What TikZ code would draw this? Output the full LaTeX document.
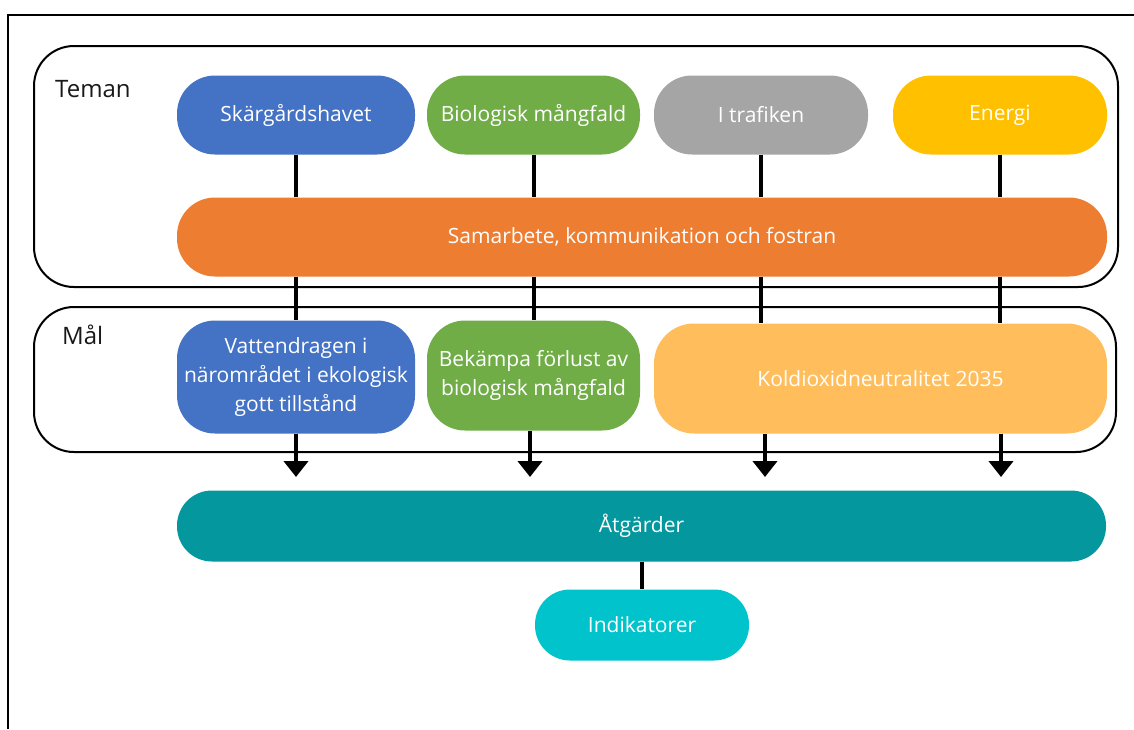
\documentclass[tikz,border=0pt]{standalone}
\usepackage{fontspec}
\setmainfont{Open Sans}
\usetikzlibrary{arrows.meta}
\definecolor{cblue}{HTML}{4472C4}
\definecolor{cgreen}{HTML}{70AD47}
\definecolor{cgray}{HTML}{A5A5A5}
\definecolor{cyellow}{HTML}{FFC000}
\definecolor{corange}{HTML}{ED7D31}
\definecolor{clight}{HTML}{FFBE5B}
\definecolor{cteal}{HTML}{05979E}
\definecolor{ccyan}{HTML}{00C3CB}
\tikzset{
  pill/.style={fill=#1, draw=none, text=white, align=center, inner sep=0pt,
    rounded corners=38pt, font=\fontsize{21}{29}\selectfont},
  frame/.style={draw=black, line width=2pt, rounded corners=40pt},
  conn/.style={draw=black, line width=4pt},
  arr/.style={draw=black, line width=4pt, -{Triangle[width=24pt,length=16pt]}},
  lbl/.style={font=\fontsize{24}{28}\selectfont, text=black!90, inner sep=0pt}
}
\begin{document}
\begin{tikzpicture}[x=1pt,y=-1pt]
\useasboundingbox (0,0) rectangle (1134,729);
% outer frame (cut at right and bottom)
\draw[line width=2pt] (8,729) -- (8,15) -- (1134,15);
% group frames
\node[frame, minimum width=1084pt, minimum height=241pt] (teman) at (576,166.5) {};
\node[frame, minimum width=1082pt, minimum height=145pt] (mal) at (575,379.5) {};
\node[lbl, anchor=west] (temanl) at (55,89) {Teman};
\node[lbl, anchor=west] (mall) at (62,335) {Mål};
% top nodes
\node[pill=cblue, minimum width=238pt, minimum height=79pt] (sk) at (296,115) {Skärgårdshavet};
\node[pill=cgreen, minimum width=213pt, minimum height=79pt] (bio) at (533.5,115) {Biologisk mångfald};
\node[pill=cgray, minimum width=214pt, minimum height=79pt] (tra) at (761,115) {I trafiken};
\node[pill=cyellow, minimum width=214pt, minimum height=79pt] (ene) at (1000,115) {Energi};
\node[pill=corange, minimum width=930pt, minimum height=79pt] (sam) at (642,237) {Samarbete, kommunikation och fostran};
% goals
\node[pill=cblue, minimum width=238pt, minimum height=113pt] (vat) at (296,377) {Vattendragen i\\närområdet i ekologisk\\gott tillstånd};
\node[pill=cgreen, minimum width=213pt, minimum height=110pt] (bek) at (533.5,375.5) {Bekämpa förlust av\\biologisk mångfald};
\node[pill=clight, minimum width=453pt, minimum height=110pt, rounded corners=40pt] (kol) at (880.5,378.5) {Koldioxidneutralitet 2035};
% actions
\node[pill=cteal, minimum width=929pt, minimum height=71pt, rounded corners=35pt] (atg) at (641.5,526) {Åtgärder};
\node[pill=ccyan, minimum width=214pt, minimum height=71pt, rounded corners=35pt] (ind) at (642,625) {Indikatorer};
% connectors
\draw[conn] (sk.south) -- (sk.south |- sam.north);
\draw[conn] (bio.south) -- (bio.south |- sam.north);
\draw[conn] (tra.south) -- (tra.south |- sam.north);
\draw[conn] (ene.south) -- (ene.south |- sam.north);
\draw[conn] (sk.south |- sam.south) -- (vat.north);
\draw[conn] (bio.south |- sam.south) -- (bek.north);
\draw[conn] (tra.south |- sam.south) -- (tra.south |- kol.north);
\draw[conn] (ene.south |- sam.south) -- (ene.south |- kol.north);
\coordinate (a1) at (296,477);
\coordinate (a2) at (530,477);
\coordinate (a3) at (765,477);
\coordinate (a4) at (1001,477);
\draw[arr] (vat.south) -- (a1);
\draw[arr] (bek.south -| a2) -- (a2);
\draw[arr] (kol.south -| a3) -- (a3);
\draw[arr] (kol.south -| a4) -- (a4);
\draw[conn] (atg.south -| ind.north) -- (ind.north);
\end{tikzpicture}
\end{document}
